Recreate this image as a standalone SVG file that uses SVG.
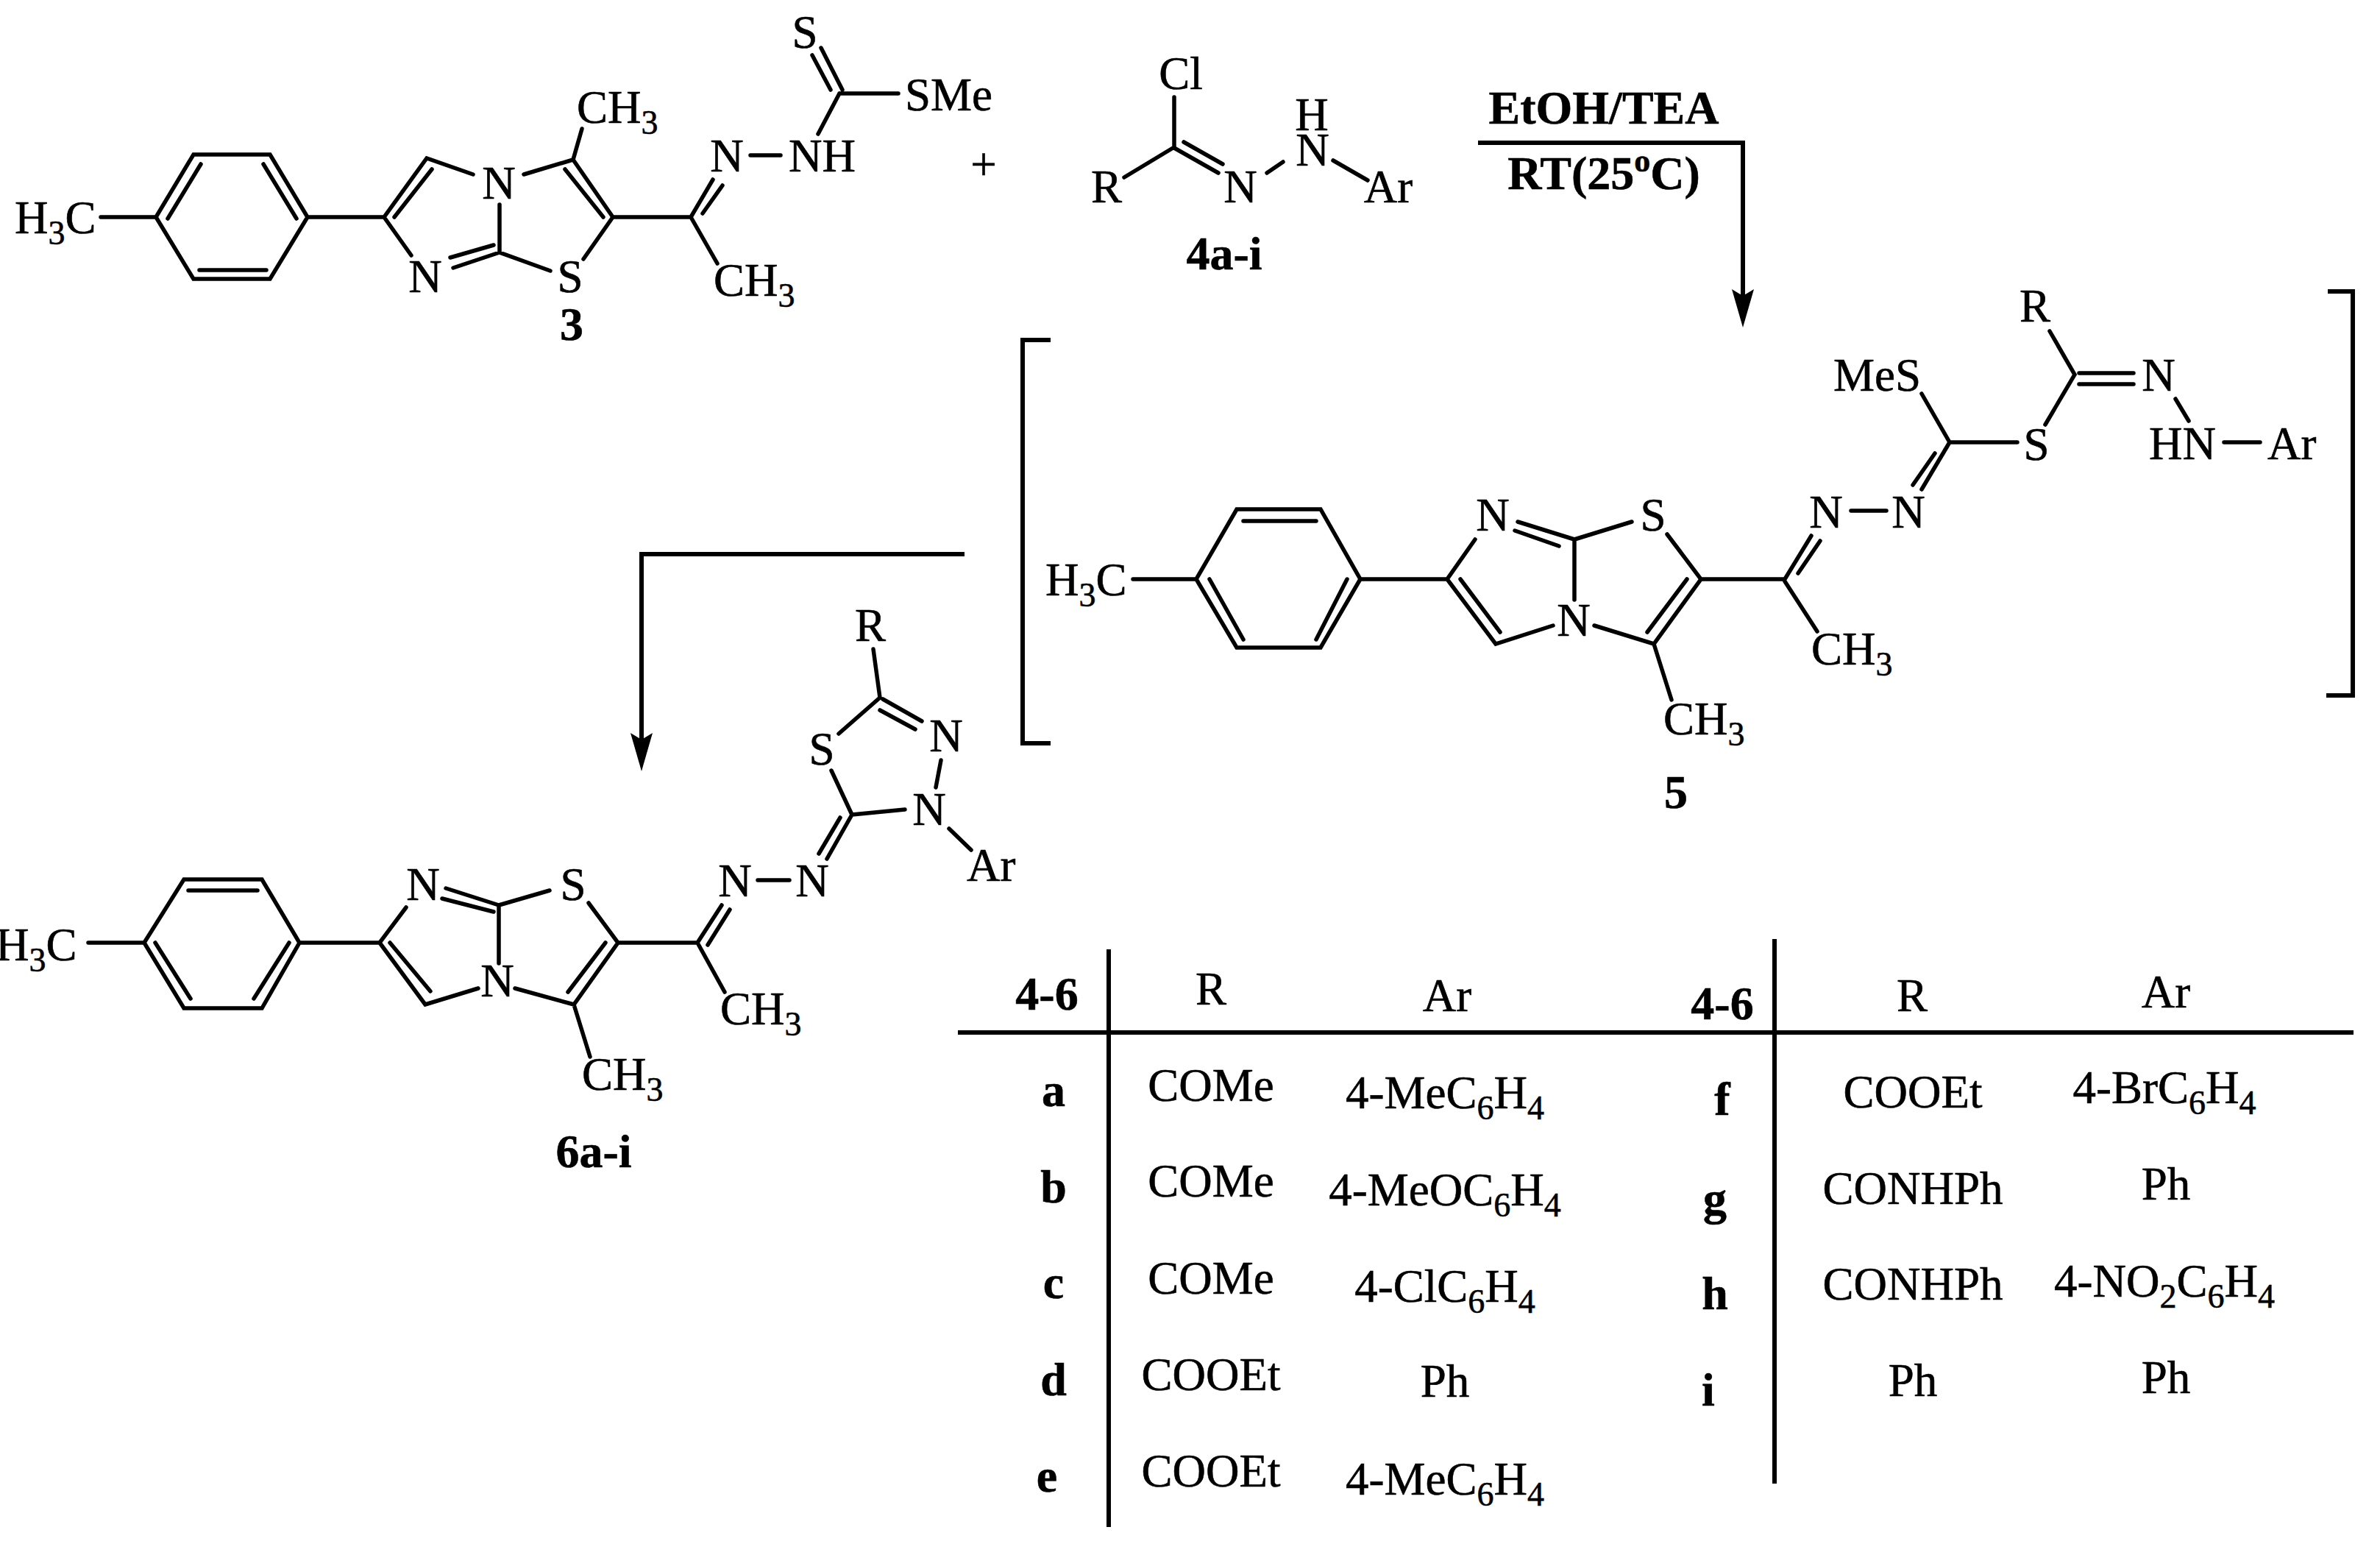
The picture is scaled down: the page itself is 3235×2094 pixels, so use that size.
<svg xmlns="http://www.w3.org/2000/svg" width="3235" height="2094" viewBox="0 0 3235 2094">
<style>
text{font-family:"Liberation Serif","Times New Roman",serif;font-size:63px;fill:#000;stroke:#000;stroke-width:.6}
.b{font-weight:bold;font-size:64px}
.m{text-anchor:middle}
.bond{fill:none;stroke:#000;stroke-width:5.5;stroke-linejoin:miter;stroke-linecap:round}
.rule{fill:none;stroke:#000;stroke-width:6}
.sub{font-size:46px}
</style>
<defs>
<marker id="head" markerUnits="userSpaceOnUse" markerWidth="52" markerHeight="30" refX="37" refY="15" orient="auto" viewBox="0 0 52 30"><path d="M52 15L0 0L9 15L0 30Z" fill="#000"/></marker>
</defs>
<rect width="3235" height="2094" fill="#fff"/>

<g id="connectors">
<path class="rule" d="M2009 194H2369V430" marker-end="url(#head)"/>
<path class="rule" d="M1311 753H872V1033" marker-end="url(#head)"/>
</g>

<g id="compound-3">
<path class="bond" d="M137 295H212L263 210H367L418 295L367 379H263L212 295M273 223L228 297M358 223L403 297M271 367H362M418 295H522L580 215L643 237M536 295L587 230M522 295L559 347M712 237L779 217L791 175M779 217L833 295M768 230L820 295M833 295H939M833 295L793 352M679 278V343L748 368M671 333L612 350M679 343L616 364M939 295L969 244M955 290L982 252M939 295L975 358M1020 211H1061M1141 127L1112 182M1145 122L1116 65M1129 122L1104 75M1141 127H1221"/>
<text x="20" y="317">H<tspan class="sub" dy="15">3</tspan><tspan dy="-15">C</tspan></text>
<text class="m" x="678" y="270">N</text>
<text x="784" y="167">CH<tspan class="sub" dy="15">3</tspan></text>
<text class="m" x="775" y="397">S</text>
<text class="m" x="578" y="397">N</text>
<text x="970" y="402">CH<tspan class="sub" dy="15">3</tspan></text>
<text class="m" x="988" y="233">N</text>
<text x="1072" y="233">NH</text>
<text class="m" x="1094" y="65">S</text>
<text x="1230" y="150">SMe</text>
<text class="b m" x="777" y="462">3</text>
</g>

<text id="plus" class="m" x="1337" y="245">+</text>

<g id="compound-4">
<path class="bond" d="M1596 200V132M1596 200L1528 241M1609 193L1662 223M1596 201L1656 235M1722 235L1744 220M1812 218L1859 245"/>
<text class="m" x="1605" y="121">Cl</text>
<text class="m" x="1504" y="275">R</text>
<text class="m" x="1686" y="275">N</text>
<text class="m" x="1784" y="225">N</text>
<text class="m" x="1783" y="177">H</text>
<text class="m" x="1887" y="275">Ar</text>
<text class="b m" x="1664" y="366">4a-i</text>
</g>

<g id="conditions">
<text class="b m" x="2180" y="168">EtOH/TEA</text>
<text class="b m" x="2180" y="257">RT(25<tspan font-size="44" dy="-24">o</tspan><tspan dy="24">C)</tspan></text>
</g>

<g id="compound-5">
<path class="rule" d="M1428 462H1390V1010H1428M3164 396H3198V945H3162"/>
<path class="bond" d="M1540 787H1626L1681 692H1795L1849 787L1795 880H1681L1626 787M1690 708H1789M1644 787L1690 869M1831 787L1789 869M1849 787H1967L2005 733M1967 787L2033 875L2111 850M1985 787L2039 859M2140 733V815M2140 733L2063 709M2119 742L2059 721M2140 733L2218 709M2266 726L2312 787L2248 875L2167 850M2293 787L2239 859M2248 875L2272 951M2312 787H2426L2462 728M2444 779L2474 735M2426 790L2470 858M2516 694H2564M2650 601L2612 665M2630 616L2600 659M2650 601L2612 535M2650 601H2742M2780 577L2820 509L2786 450M2826 507H2900M2826 522H2900M2957 542L2975 572M3023 601H3072"/>
<text x="1421" y="809">H<tspan class="sub" dy="15">3</tspan><tspan dy="-15">C</tspan></text>
<text class="m" x="2029" y="721">N</text>
<text class="m" x="2139" y="864">N</text>
<text class="m" x="2247" y="721">S</text>
<text x="2261" y="998">CH<tspan class="sub" dy="15">3</tspan></text>
<text x="2462" y="903">CH<tspan class="sub" dy="15">3</tspan></text>
<text class="m" x="2482" y="717">N</text>
<text class="m" x="2594" y="717">N</text>
<text x="2492" y="531">MeS</text>
<text class="m" x="2768" y="625">S</text>
<text class="m" x="2766" y="437">R</text>
<text class="m" x="2934" y="531">N</text>
<text x="2921" y="624">HN</text>
<text x="3082" y="624">Ar</text>
<text class="b m" x="2278" y="1098">5</text>
</g>

<g id="compound-6">
<path class="bond" d="M120 1281H196L250 1195H356L407 1281L356 1370H250L196 1281M256 1210H350M211 1281L259 1357M393 1281L345 1357M407 1281H516L552 1233M516 1281L578 1365L650 1343M530 1281L585 1347M678 1230V1309M678 1230L606 1207M671 1239L601 1221M678 1230L747 1210M800 1227L840 1281L780 1365L700 1343M823 1281L772 1348M780 1365L802 1436M840 1281H948L981 1230M962 1284L992 1236M948 1281L985 1348M1030 1196H1073M1158 1107L1124 1167M1142 1111L1113 1160M1158 1107L1130 1047M1140 997L1196 948M1200 950L1253 980M1196 965L1244 991M1279 1033L1272 1070M1230 1100L1158 1107M1290 1126L1320 1155M1196 948L1187 882"/>
<text x="-6" y="1305">H<tspan class="sub" dy="15">3</tspan><tspan dy="-15">C</tspan></text>
<text class="m" x="676" y="1354">N</text>
<text class="m" x="575" y="1223">N</text>
<text class="m" x="779" y="1223">S</text>
<text x="791" y="1481">CH<tspan class="sub" dy="15">3</tspan></text>
<text x="979" y="1392">CH<tspan class="sub" dy="15">3</tspan></text>
<text class="m" x="999" y="1218">N</text>
<text class="m" x="1104" y="1218">N</text>
<text class="m" x="1117" y="1039">S</text>
<text class="m" x="1286" y="1021">N</text>
<text class="m" x="1263" y="1121">N</text>
<text x="1314" y="1197">Ar</text>
<text class="m" x="1183" y="871">R</text>
<text class="b m" x="807" y="1586">6a-i</text>
</g>

<g id="table">
<path class="rule" d="M1302 1403H3199M1507 1290V2075M2412 1276V2016"/>
<text class="b m" x="1423" y="1372">4-6</text>
<text class="m" x="1646" y="1365">R</text>
<text class="m" x="1967" y="1374">Ar</text>
<text class="b m" x="2341" y="1385">4-6</text>
<text class="m" x="2599" y="1374">R</text>
<text class="m" x="2944" y="1369">Ar</text>

<text class="b m" x="1432" y="1503">a</text>
<text class="m" x="1646" y="1496">COMe</text>
<text class="m" x="1964" y="1506">4-MeC<tspan class="sub" dy="15">6</tspan><tspan dy="-15">H</tspan><tspan class="sub" dy="15">4</tspan></text>
<text class="b m" x="2341" y="1515">f</text>
<text class="m" x="2600" y="1505">COOEt</text>
<text class="m" x="2942" y="1499">4-BrC<tspan class="sub" dy="15">6</tspan><tspan dy="-15">H</tspan><tspan class="sub" dy="15">4</tspan></text>

<text class="b m" x="1432" y="1634">b</text>
<text class="m" x="1646" y="1626">COMe</text>
<text class="m" x="1964" y="1638">4-MeOC<tspan class="sub" dy="15">6</tspan><tspan dy="-15">H</tspan><tspan class="sub" dy="15">4</tspan></text>
<text class="b m" x="2331" y="1650">g</text>
<text class="m" x="2600" y="1636">CONHPh</text>
<text class="m" x="2944" y="1630">Ph</text>

<text class="b m" x="1432" y="1764">c</text>
<text class="m" x="1646" y="1758">COMe</text>
<text class="m" x="1964" y="1769">4-ClC<tspan class="sub" dy="15">6</tspan><tspan dy="-15">H</tspan><tspan class="sub" dy="15">4</tspan></text>
<text class="b m" x="2331" y="1779">h</text>
<text class="m" x="2600" y="1766">CONHPh</text>
<text class="m" x="2942" y="1762">4-NO<tspan class="sub" dy="15">2</tspan><tspan dy="-15">C</tspan><tspan class="sub" dy="15">6</tspan><tspan dy="-15">H</tspan><tspan class="sub" dy="15">4</tspan></text>

<text class="b m" x="1432" y="1896">d</text>
<text class="m" x="1646" y="1889">COOEt</text>
<text class="m" x="1964" y="1898">Ph</text>
<text class="b m" x="2322" y="1910">i</text>
<text class="m" x="2600" y="1897">Ph</text>
<text class="m" x="2944" y="1893">Ph</text>

<text class="b m" x="1423" y="2027">e</text>
<text class="m" x="1646" y="2020">COOEt</text>
<text class="m" x="1964" y="2031">4-MeC<tspan class="sub" dy="15">6</tspan><tspan dy="-15">H</tspan><tspan class="sub" dy="15">4</tspan></text>
</g>
</svg>
